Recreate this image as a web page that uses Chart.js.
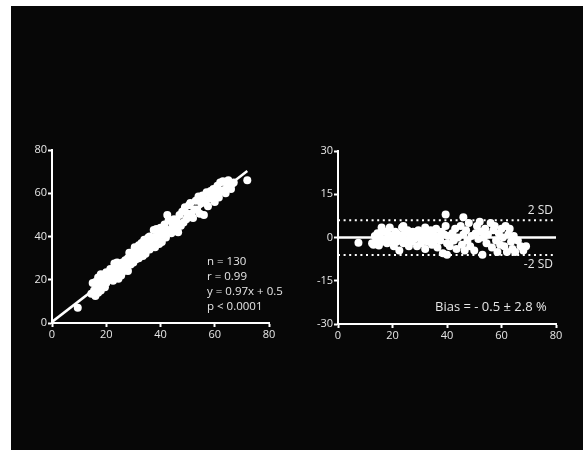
<!DOCTYPE html>
<html>
<head>
<meta charset="utf-8">
<script src="https://cdn.jsdelivr.net/npm/chart.js@4"></script>
<style>
  html, body { margin: 0; padding: 0; background: #ffffff; width: 583px; height: 450px; overflow: hidden; }
  #panel { position: absolute; left: 11px; top: 6px; width: 572px; height: 444px; background: #070707; }
  #c1 { position: absolute; left: 0px; top: 0px; }
  #c2 { position: absolute; left: 290px; top: 0px; }
</style>
</head>
<body>
<div id="panel"></div>
<canvas id="c1" width="300" height="345" style="width:300px;height:345px"></canvas>
<canvas id="c2" width="293" height="345" style="width:293px;height:345px"></canvas>
<script>
// ---- Left panel: method comparison ----
const cmpX = [9.5,14.5,15,15.5,16,16,16.5,17,17,17.5,18,18,18.5,19,19.5,20,20,21,21.5,22,22.5,23,23,23.5,24,24,24.5,25,25.5,26,26.5,27,27.5,28,28,28.5,29,29.5,30,30,30.5,31,31.5,32,32,32.5,33,33.5,34,34,34.5,35,35.5,36,36,36.5,37,37.5,38,38,38.5,39,39.5,40,40,40.5,41,41.5,42,42.5,43,43,44,44.5,45,45.5,46,46.5,47,47.5,48,48.5,49,49.5,50,50.5,51,51.5,52,52.5,53,53.5,54,54.5,55,55.5,56,56.5,57,57.5,58,58.5,59,59.5,60,60.5,61,61.5,62,62.5,63,63.5,64,64.5,65,66,66.5,67,72];
const cmpY = [7,13.5,18.5,15,19,12.5,16.5,21,14,17.5,22.5,15,19,20.5,16.5,23.5,18.5,21,25,23,19.5,25.5,27.5,22.5,28,24,20.5,26,22,28,24,29,25.5,30,24,32.5,27,31,33,28,35,29.5,32.5,36,30,33.5,37,31,34.5,38.5,32,36.5,39.5,34,40,36,37.5,43,39.5,35,43.5,40.5,36.5,44,41,37.5,42.5,45.5,39.5,50,43,47.5,41.5,45.5,48,43.5,47,42,50,45,51.5,46.5,53.5,48,50.5,54.5,55.5,50.5,48.5,52.5,56.5,52.5,58.5,50.5,55.5,59,50,56.5,60.5,54,57.5,61,58,62,56,60.5,63.5,58,65,61,65.5,61.5,60,64,66,62,64.5,65,66];
const fitX = [0, 72];
const fitY = [0.5, 70.3];
const cmpTicks = [0, 20, 40, 60, 80];
const cmpNotes = ["n = 130", "r = 0.99", "y = 0.97x + 0.5", "p < 0.0001"];

// ---- Right panel: Bland-Altman ----
const baX = [7.5,12.5,13,13.5,14,14.5,15,15.5,16,16,17,17.5,18,18.5,19,19.5,20,20.5,21,21.5,22,22.5,23,23.5,24,24,24.5,25,25.5,26,26.5,27,27.5,28,28.5,29,29.5,30,30.5,31,31.5,32,32,32.5,33,33.5,34,34.5,35,35.5,36,36.5,37,37.5,38,38.5,39,39.5,39.5,40,40,40.5,41,42,42.5,43,43.5,44,45,45.5,46,46,46.5,47,47.5,48,48.5,49,50,50.5,51,51.5,52,52.5,53,53.5,54,54.5,55,56,56.5,57,57.5,58,58.5,59,59.5,60,60.5,61,61.5,62,62.5,63,63.5,64,64.5,65,66,67,68,69];
const baY = [-1.8,-2,-2.5,0.5,-1,1.5,-2.8,0,3.5,-1.5,2,-0.5,-2,1,3.5,-1,0.5,-3,2,-1.5,1,-4.5,0,3.5,-2,4,1.5,-1,2.5,-3,0.5,-1.5,2,-0.5,1,-3,2.5,0,-2,1.5,-0.5,3.5,-4,1,-1.5,0.5,2.5,-2.5,1,-1,3,-3.5,0.5,-1,2,-5.5,1,8,4,-2,-6,0.5,-3,1.5,-1,3,-4,0,4,-2.5,7,1,-4.5,2.5,-1,5,-3,0.5,-4.5,1.5,4,-0.5,5.5,2,-6,0,3,-2,1,5,-3.5,2.5,4,-1,-5,1.5,-2.5,3,0,-3,4,-5,1,3,-1.5,-4,0.5,-5,-1,-3,-4.5,-3];
const biasLine = 0;
const upperSD = 6;
const lowerSD = -6.1;
const baXTicks = [0, 20, 40, 60, 80];
const baYTicks = [-30, -15, 0, 15, 30];
const baNote = "Bias = - 0.5 \u00B1 2.8 %";

const FONT = "'Open Sans', 'Noto Sans', sans-serif";
const TXT = '#e6e6e6';

function pts(xs, ys) { return xs.map((x, i) => ({ x: x, y: ys[i] })); }

function axis(ticksArr, min, max, fitSize, isY) {
  return {
    type: 'linear', min: min, max: max,
    afterBuildTicks: (s) => { s.ticks = ticksArr.map(v => ({ value: v })); },
    afterFit: (s) => { if (isY) s.width = fitSize; else s.height = fitSize; },
    border: { display: true, color: '#ffffff', width: 2 },
    grid: { display: true, drawOnChartArea: false, drawTicks: true, tickLength: 4, tickWidth: 2, tickColor: '#ffffff', color: '#ffffff' },
    ticks: { color: TXT, font: { family: FONT, size: 11 }, padding: 1, autoSkip: false, maxRotation: 0 }
  };
}

const textPlugin = {
  id: 'notes',
  afterDatasetsDraw(chart, args, opts) {
    const ctx = chart.ctx;
    ctx.save();
    ctx.fillStyle = TXT;
    ctx.textBaseline = 'middle';
    (opts.items || []).forEach(it => {
      ctx.font = (it.size || 12) + "px " + FONT;
      ctx.textAlign = it.align || 'left';
      ctx.fillText(it.text, it.x, it.y);
    });
    ctx.restore();
  }
};

new Chart(document.getElementById('c1'), {
  type: 'scatter',
  data: {
    datasets: [
      { data: pts(fitX, fitY), showLine: true, borderColor: '#ffffff', borderWidth: 2.5, pointRadius: 0, order: 2 },
      { data: pts(cmpX, cmpY), backgroundColor: '#ffffff', borderColor: '#ffffff', borderWidth: 0, pointRadius: 4, order: 1 }
    ]
  },
  options: {
    responsive: false, animation: false, devicePixelRatio: 1,
    layout: { padding: { top: 150, right: 31, left: 0, bottom: 0 } },
    plugins: {
      legend: { display: false }, tooltip: { enabled: false },
      notes: { items: cmpNotes.map((t, i) => ({ text: t, x: 207, y: 262 + i * 15, size: 11.5 })) }
    },
    scales: {
      x: axis(cmpTicks, 0, 80, 22, false),
      y: axis(cmpTicks, 0, 80, 52, true)
    }
  },
  plugins: [textPlugin]
});

new Chart(document.getElementById('c2'), {
  type: 'scatter',
  data: {
    datasets: [
      { data: [{ x: 0, y: upperSD }, { x: 80, y: upperSD }], showLine: true, borderColor: '#ffffff', borderWidth: 2, borderDash: [2, 3.6], pointRadius: 0, order: 3 },
      { data: [{ x: 0, y: lowerSD }, { x: 80, y: lowerSD }], showLine: true, borderColor: '#ffffff', borderWidth: 2, borderDash: [2, 3.6], pointRadius: 0, order: 3 },
      { data: [{ x: 0, y: biasLine }, { x: 80, y: biasLine }], showLine: true, borderColor: '#ffffff', borderWidth: 2.5, pointRadius: 0, order: 2 },
      { data: pts(baX, baY), backgroundColor: '#ffffff', borderColor: '#ffffff', borderWidth: 0, pointRadius: 4, order: 1 }
    ]
  },
  options: {
    responsive: false, animation: false, devicePixelRatio: 1,
    layout: { padding: { top: 151, right: 27, left: 0, bottom: 0 } },
    plugins: {
      legend: { display: false }, tooltip: { enabled: false },
      notes: { items: [
        { text: "2 SD", x: 263, y: 211, align: 'right', size: 12 },
        { text: "-2 SD", x: 263, y: 265, align: 'right', size: 12 },
        { text: baNote, x: 145, y: 307, align: 'left', size: 13 }
      ] }
    },
    scales: {
      x: axis(baXTicks, 0, 80, 21, false),
      y: axis(baYTicks, -30, 30, 48, true)
    }
  },
  plugins: [textPlugin]
});
</script>
</body>
</html>
